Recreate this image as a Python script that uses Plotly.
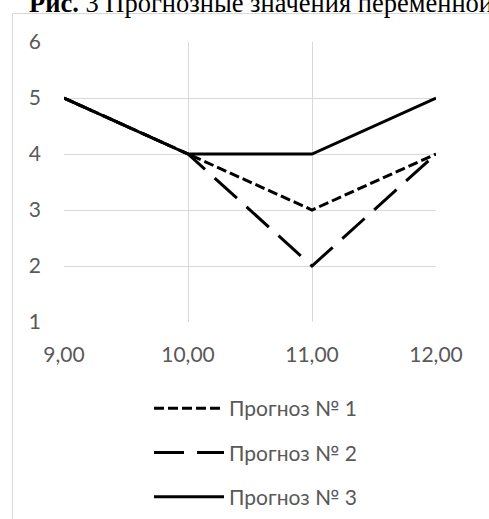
import plotly.graph_objects as go

# Forecast horizon (x) and the three forecast series
x_vals = [9, 10, 11, 12]
x_tick_text = ["9,00", "10,00", "11,00", "12,00"]
y_ticks = [1, 2, 3, 4, 5, 6]

series_names = ["Прогноз № 1", "Прогноз № 2", "Прогноз № 3"]
forecast_1 = [5, 4, 3, 4]
forecast_2 = [5, 4, 2, 4]
forecast_3 = [5, 4, 4, 5]

W, H = 489, 519
L, R, T, B = 64, 53, 42, 197
PW, PH = W - L - R, H - T - B


def px_x(p):
    return (p - L) / PW


def px_y(p):
    return (H - B - p) / PH


fig = go.Figure()
styles = [
    dict(dash="10px,4px"),
    dict(dash="30px,13px"),
    dict(dash="solid"),
]
for i, (name, ys) in enumerate(zip(series_names, [forecast_1, forecast_2, forecast_3])):
    fig.add_trace(go.Scatter(
        x=x_vals, y=ys, name=name, mode="lines",
        line=dict(color="black", width=3, **styles[i]),
        legendgroup=f"g{i}",
    ))

grid = "#d9d9d9"
tick_font = dict(family="Lato", size=21, color="#595959")

fig.update_layout(
    width=W, height=H,
    margin=dict(l=L, r=R, t=T, b=B, autoexpand=False),
    paper_bgcolor="white", plot_bgcolor="white",
    showlegend=True,
    legend=dict(
        x=px_x(149), xanchor="left",
        y=px_y(388), yanchor="top",
        font=dict(family="Lato", size=21, color="#595959"),
        traceorder="grouped", tracegroupgap=14,
        itemwidth=70,
        bgcolor="rgba(0,0,0,0)",
    ),
    xaxis=dict(
        range=[9, 12], tickvals=x_vals, ticktext=x_tick_text,
        showgrid=True, gridcolor=grid, gridwidth=1,
        showline=False, zeroline=False,
        tickfont=tick_font, ticks="", ticklabelstandoff=18,
    ),
    yaxis=dict(
        range=[1, 6], tickvals=y_ticks,
        showgrid=True, gridcolor=grid, gridwidth=1,
        showline=False, zeroline=False,
        tickfont=tick_font, ticks="", ticklabelstandoff=22,
    ),
    shapes=[
        dict(type="line", xref="paper", yref="paper",
             x0=px_x(12.5), y0=px_y(13.5), x1=px_x(600), y1=px_y(13.5),
             line=dict(color=grid, width=1)),
        dict(type="line", xref="paper", yref="paper",
             x0=px_x(12.5), y0=px_y(13.5), x1=px_x(12.5), y1=px_y(700),
             line=dict(color=grid, width=1)),
    ],
    annotations=[
        dict(
            text="<b>Рис.</b> 3 Прогнозные значения переменной",
            xref="paper", yref="paper",
            x=px_x(27), xanchor="left",
            y=px_y(3), yanchor="middle",
            showarrow=False,
            font=dict(family="Liberation Serif", size=26.5, color="black"),
        )
    ],
)

fig.write_html("out.html")
